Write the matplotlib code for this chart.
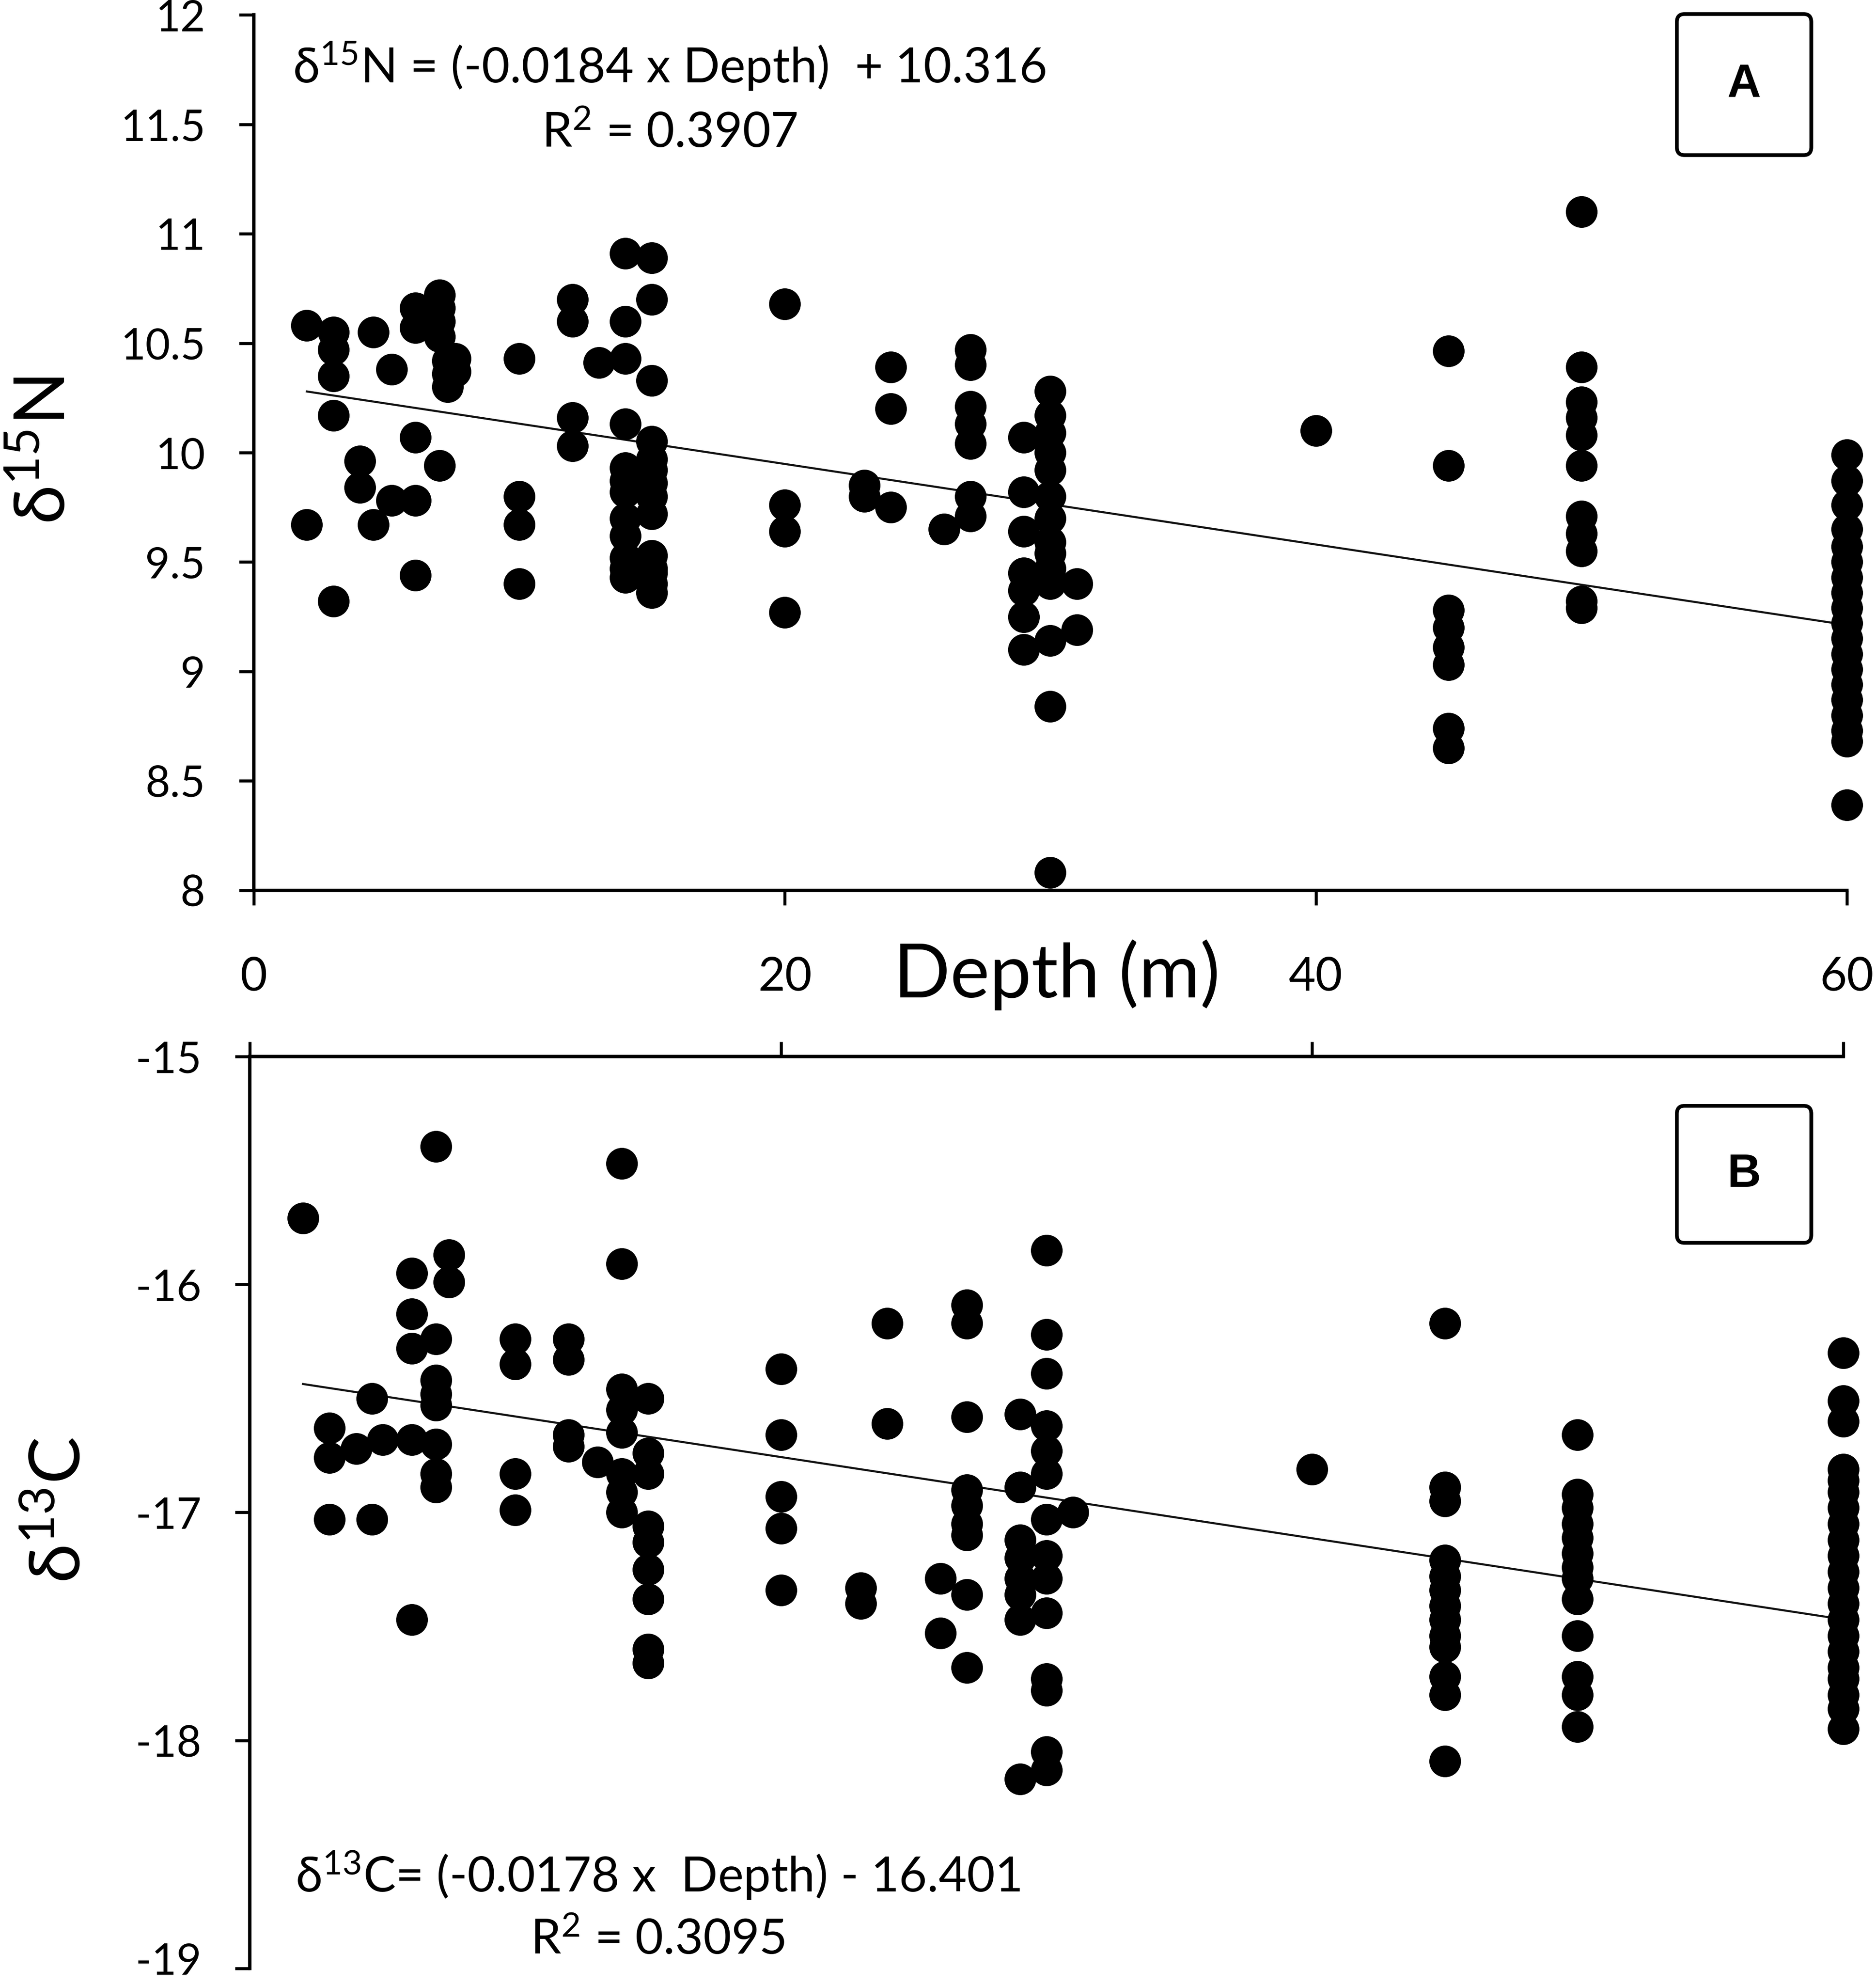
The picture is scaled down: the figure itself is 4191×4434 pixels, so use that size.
import matplotlib
matplotlib.use('Agg')
import matplotlib.pyplot as plt
from matplotlib.patches import FancyBboxPatch
from matplotlib.ticker import FixedLocator, FixedFormatter
import numpy as np

plt.rcParams['font.family'] = ['Lato', 'DejaVu Sans']
plt.rcParams['mathtext.fontset'] = 'custom'
plt.rcParams['mathtext.rm'] = 'Lato'
plt.rcParams['mathtext.it'] = 'Lato:italic'
plt.rcParams['mathtext.bf'] = 'Lato:bold'
plt.rcParams['axes.unicode_minus'] = False

# ---------------- data: panel A (depth vs d15N) ----------------
depth_n = [2, 2,
           3, 3, 3, 3, 3,
           4, 4,
           4.5, 4.5,
           5.2, 5.2,
           6.1, 6.1, 6.1, 6.1, 6.1,
           7, 7, 7, 7, 7,
           7.3, 7.3, 7.3,
           7.6, 7.6,
           10, 10, 10, 10,
           12, 12, 12, 12,
           13,
           14, 14, 14, 14, 14, 14, 14, 14, 14, 14, 14, 14,
           15, 15, 15, 15, 15, 15, 15, 15, 15, 15, 15, 15, 15, 15,
           20, 20, 20, 20,
           23, 23,
           24, 24, 24,
           26,
           27, 27, 27, 27, 27, 27, 27,
           29, 29, 29, 29, 29, 29, 29,
           30, 30, 30, 30, 30, 30, 30, 30, 30, 30, 30, 30, 30, 30,
           31, 31,
           40,
           45, 45, 45, 45, 45, 45, 45, 45,
           50, 50, 50, 50, 50, 50, 50, 50, 50, 50, 50,
           60, 60, 60, 60, 60, 60, 60, 60, 60, 60, 60, 60, 60, 60, 60, 60, 60, 60, 60]
d15n = [10.58, 9.67,
        10.55, 10.47, 10.35, 10.17, 9.32,
        9.96, 9.84,
        10.55, 9.67,
        10.38, 9.78,
        10.66, 10.57, 10.07, 9.78, 9.44,
        10.72, 10.66, 10.60, 10.53, 9.94,
        10.42, 10.36, 10.30,
        10.43, 10.37,
        10.43, 9.80, 9.67, 9.40,
        10.70, 10.60, 10.16, 10.03,
        10.41,
        10.91, 10.60, 10.43, 10.13, 9.93, 9.87, 9.82, 9.70, 9.62, 9.52, 9.47, 9.43,
        10.89, 10.70, 10.33, 10.05, 9.97, 9.92, 9.86, 9.80, 9.72, 9.53, 9.47, 9.45, 9.40, 9.36,
        10.68, 9.76, 9.64, 9.27,
        9.85, 9.80,
        10.39, 10.20, 9.75,
        9.65,
        10.47, 10.40, 10.21, 10.13, 10.04, 9.80, 9.71,
        10.07, 9.82, 9.64, 9.45, 9.37, 9.25, 9.10,
        10.28, 10.17, 10.09, 10.00, 9.92, 9.80, 9.70, 9.59, 9.54, 9.47, 9.40, 9.14, 8.84, 8.08,
        9.40, 9.19,
        10.10,
        10.465, 9.94, 9.28, 9.20, 9.11, 9.03, 8.74, 8.65,
        11.10, 10.39, 10.23, 10.16, 10.08, 9.94, 9.71, 9.63, 9.55, 9.32, 9.29,
        9.99, 9.87, 9.76, 9.65, 9.57, 9.50, 9.43, 9.36, 9.29, 9.22, 9.15, 9.08, 9.01,
        8.94, 8.87, 8.80, 8.73, 8.68, 8.39]

# ---------------- data: panel B (depth vs d13C) ----------------
depth_c = [2,
           3, 3, 3,
           4,
           4.6, 4.6,
           5,
           6.1, 6.1, 6.1, 6.1, 6.1,
           7, 7, 7, 7, 7, 7, 7, 7,
           7.5, 7.5,
           10, 10, 10, 10,
           12, 12, 12, 12,
           13.1,
           14, 14, 14, 14, 14, 14, 14, 14,
           15, 15, 15, 15, 15, 15, 15, 15, 15,
           20, 20, 20, 20, 20,
           23, 23,
           24, 24,
           26, 26,
           27, 27, 27, 27, 27, 27, 27, 27, 27,
           29, 29, 29, 29, 29, 29, 29, 29,
           30, 30, 30, 30, 30, 30, 30, 30, 30, 30, 30, 30, 30, 30,
           31,
           40,
           45, 45, 45, 45, 45, 45, 45, 45, 45, 45, 45, 45, 45,
           50, 50, 50, 50, 50, 50, 50, 50, 50, 50, 50, 50, 50,
           60, 60, 60, 60, 60, 60, 60, 60, 60, 60, 60, 60, 60, 60, 60, 60, 60, 60, 60, 60, 60]
d13c = [-15.71,
        -16.63, -16.76, -17.03,
        -16.72,
        -16.50, -17.03,
        -16.68,
        -15.95, -16.13, -16.28, -16.68, -17.47,
        -15.395, -16.24, -16.42, -16.48, -16.53, -16.70, -16.83, -16.89,
        -15.87, -15.99,
        -16.24, -16.35, -16.83, -16.99,
        -16.24, -16.33, -16.66, -16.71,
        -16.78,
        -15.47, -15.91, -16.46, -16.55, -16.65, -16.83, -16.91, -17.00,
        -16.50, -16.74, -16.83, -17.06, -17.13, -17.25, -17.38, -17.60, -17.66,
        -16.37, -16.66, -16.93, -17.07, -17.34,
        -17.33, -17.40,
        -16.17, -16.61,
        -17.29, -17.53,
        -16.09, -16.17, -16.58, -16.90, -16.97, -17.05, -17.10, -17.36, -17.68,
        -16.57, -16.89, -17.12, -17.20, -17.29, -17.36, -17.47, -18.17,
        -15.85, -16.22, -16.39, -16.62, -16.73, -16.83, -17.03, -17.19, -17.29, -17.44,
        -17.73, -17.78, -18.05, -18.13,
        -17.00,
        -16.81,
        -16.17, -16.89, -16.95, -17.21, -17.28, -17.34, -17.41, -17.47, -17.54, -17.59,
        -17.72, -17.80, -18.09,
        -16.66, -16.92, -16.98, -17.05, -17.11, -17.18, -17.24, -17.29, -17.38, -17.54,
        -17.72, -17.80, -17.94,
        -16.30, -16.51, -16.60, -16.81, -16.86, -16.91, -16.98, -17.05, -17.12, -17.19,
        -17.26, -17.33, -17.40, -17.47, -17.54, -17.61, -17.68, -17.73, -17.80, -17.86, -17.95]

# regression fits (as printed on the chart)
fit_n = (-0.0184, 10.316)
fit_c = (-0.0178, -16.401)
fit_range = [2, 60]

x_ticks = [0, 20, 40, 60]
x_tick_labels = ['0', '20', '40', '60']
y_ticks_n = [8, 8.5, 9, 9.5, 10, 10.5, 11, 11.5, 12]
y_tick_labels_n = ['8', '8.5', '9', '9.5', '10', '10.5', '11', '11.5', '12']
y_ticks_c = [-19, -18, -17, -16, -15]
y_tick_labels_c = ['-19', '-18', '-17', '-16', '-15']

eq_n = ['δ$^{15}$N = (-0.0184 x Depth)  + 10.316', 'R$^{2}$ = 0.3907']
eq_c = ['δ$^{13}$C= (-0.0178 x  Depth) - 16.401', 'R$^{2}$ = 0.3095']

# ---------------- figure ----------------
fig = plt.figure(figsize=(13.97, 14.783), dpi=300)
ax_a = fig.add_axes([0.1352, 0.5514, 0.8493, 0.4409])
ax_b = fig.add_axes([0.1332, 0.0083, 0.8493, 0.4594])

SPINE_W = 1.8
MS = 17
TICK_LEN = 8
YPAD = 18

def style(ax):
    for s in ax.spines.values():
        s.set_linewidth(SPINE_W)
    ax.tick_params(axis='both', direction='out', length=TICK_LEN, width=1.6, colors='black')

# Panel A
ax_a.plot(depth_n, d15n, 'o', color='black', markersize=MS, markeredgewidth=0, clip_on=False, zorder=3)
xf = np.array(fit_range, dtype=float)
ax_a.plot(xf, fit_n[0] * xf + fit_n[1], color='#111111', lw=1.1, zorder=2)
ax_a.set_xlim(0, 60)
ax_a.set_ylim(8, 12)
ax_a.spines['top'].set_visible(False)
ax_a.spines['right'].set_visible(False)
style(ax_a)
ax_a.xaxis.set_major_locator(FixedLocator(x_ticks))
ax_a.xaxis.set_major_formatter(FixedFormatter(x_tick_labels))
ax_a.yaxis.set_major_locator(FixedLocator(y_ticks_n))
ax_a.yaxis.set_major_formatter(FixedFormatter(y_tick_labels_n))
ax_a.tick_params(axis='x', labelsize=25, pad=27)
ax_a.tick_params(axis='y', labelsize=23, pad=YPAD)
ax_a.set_xlabel('Depth (m)', fontsize=40, va='center')
ax_a.xaxis.set_label_coords(0.504, -0.096)
ax_a.set_ylabel('δ$^{15}$N', fontsize=38, va='center')
ax_a.yaxis.set_label_coords(-0.131, 0.503)
ax_a.text(0.261, 0.942, eq_n[0], transform=ax_a.transAxes, ha='center', va='center', fontsize=26)
ax_a.text(0.261, 0.865, eq_n[1], transform=ax_a.transAxes, ha='center', va='center', fontsize=26)

# Panel B
ax_b.plot(depth_c, d13c, 'o', color='black', markersize=MS, markeredgewidth=0, clip_on=False, zorder=3)
ax_b.plot(xf, fit_c[0] * xf + fit_c[1], color='#111111', lw=1.1, zorder=2)
ax_b.set_xlim(0, 60)
ax_b.set_ylim(-19, -15)
ax_b.spines['bottom'].set_visible(False)
ax_b.spines['right'].set_visible(False)
style(ax_b)
ax_b.xaxis.tick_top()
ax_b.xaxis.set_major_locator(FixedLocator(x_ticks))
ax_b.tick_params(axis='x', labeltop=False, labelbottom=False)
ax_b.yaxis.set_major_locator(FixedLocator(y_ticks_c))
# the lowest label sits at the figure's bottom edge; it is drawn separately so it is not cut
ax_b.yaxis.set_major_formatter(FixedFormatter([''] + y_tick_labels_c[1:]))
ax_b.tick_params(axis='y', labelsize=23, pad=YPAD)
ax_b.annotate(y_tick_labels_c[0], xy=(0, 0.0015), xycoords=('axes fraction', 'figure fraction'),
              xytext=(-(TICK_LEN + YPAD), 0), textcoords='offset points',
              ha='right', va='bottom', fontsize=23)
ax_b.set_ylabel('δ$^{13}$C', fontsize=38, va='center')
ax_b.yaxis.set_label_coords(-0.119, 0.503)
ax_b.text(0.256, 0.103, eq_c[0], transform=ax_b.transAxes, ha='center', va='center', fontsize=26)
ax_b.text(0.256, 0.031, eq_c[1], transform=ax_b.transAxes, ha='center', va='center', fontsize=26)

# Panel letter boxes (figure coords)
def letter_box(x0, y0, x1, y1, letter):
    box = FancyBboxPatch((x0, y0), x1 - x0, y1 - y0, boxstyle='round,pad=0,rounding_size=0.004',
                         transform=fig.transFigure, fill=False, lw=2.0, edgecolor='black')
    fig.patches.append(box)
    fig.text((x0 + x1) / 2, (y0 + y1) / 2, letter, ha='center', va='center',
             fontsize=25, fontweight='bold', family=['Liberation Sans', 'DejaVu Sans'])

letter_box(1322 / 1479, 1 - 122.6 / 1565, 1428 / 1479, 1 - 11.4 / 1565, 'A')
letter_box(1322 / 1479, 1 - 980 / 1565, 1428 / 1479, 1 - 872 / 1565, 'B')

fig.savefig('out.png', dpi=300, facecolor='white')
